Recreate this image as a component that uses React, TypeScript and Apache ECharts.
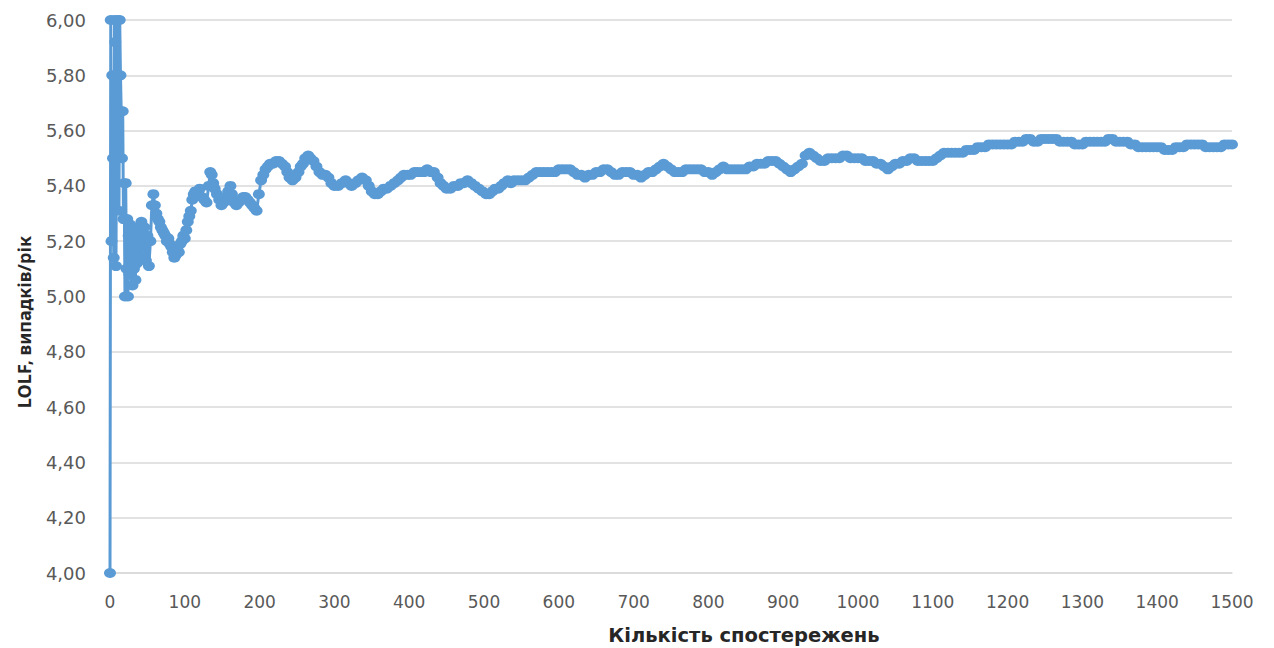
import React, { useEffect, useRef } from "react";
import * as echarts from "echarts";

const obsX: number[] = [
  0, 1, 2, 3, 4, 5, 6, 7, 8, 9, 10, 11, 12, 13, 14, 15, 16, 17, 18, 19,
  20, 21, 22, 23, 24, 25, 26, 27, 28, 29, 30, 31, 32, 33, 34, 35, 36, 38, 40, 42,
  44, 46, 48, 50, 52, 54, 56, 58, 60, 62, 64, 66, 68, 70, 72, 74, 76, 78, 80, 82,
  84, 86, 88, 90, 92, 94, 96, 98, 100, 102, 104, 106, 108, 110, 112, 114, 116, 118, 120, 123,
  126, 129, 132, 134, 136, 138, 140, 143, 146, 149, 152, 155, 158, 161, 163, 166, 169, 172, 175, 178,
  181, 184, 187, 190, 193, 196, 199, 202, 205, 208, 211, 214, 218, 222, 226, 230, 234, 237, 240, 244,
  248, 252, 255, 258, 261, 265, 268, 272, 276, 280, 284, 288, 292, 296, 300, 305, 310, 315, 319, 323,
  328, 332, 337, 342, 346, 350, 354, 358, 362, 366, 370, 375, 380, 385, 389, 393, 398, 402, 407, 411,
  416, 420, 424, 429, 433, 438, 442, 446, 450, 455, 460, 465, 469, 473, 478, 483, 488, 493, 498, 503,
  507, 511, 515, 519, 523, 527, 532, 536, 540, 545, 550, 555, 560, 565, 570, 575, 580, 585, 590, 595,
  600, 605, 610, 615, 620, 625, 630, 635, 640, 645, 650, 655, 660, 665, 670, 675, 680, 685, 690, 695,
  700, 705, 710, 715, 720, 725, 730, 735, 740, 745, 750, 755, 760, 765, 770, 775, 780, 785, 790, 795,
  800, 805, 810, 815, 820, 825, 830, 835, 840, 845, 850, 855, 860, 865, 870, 875, 880, 885, 890, 895,
  900, 905, 910, 915, 920, 925, 930, 935, 940, 945, 950, 955, 960, 965, 970, 975, 980, 985, 990, 995,
  1000, 1005, 1010, 1015, 1020, 1025, 1030, 1035, 1040, 1045, 1050, 1055, 1060, 1065, 1070, 1075, 1080, 1085, 1090, 1095,
  1100, 1105, 1110, 1115, 1120, 1125, 1130, 1135, 1140, 1145, 1150, 1155, 1160, 1165, 1170, 1175, 1180, 1185, 1190, 1195,
  1200, 1205, 1210, 1215, 1220, 1225, 1230, 1235, 1240, 1245, 1250, 1255, 1260, 1265, 1270, 1275, 1280, 1285, 1290, 1295,
  1300, 1305, 1310, 1315, 1320, 1325, 1330, 1335, 1340, 1345, 1350, 1355, 1360, 1365, 1370, 1375, 1380, 1385, 1390, 1395,
  1400, 1405, 1410, 1415, 1420, 1425, 1430, 1435, 1440, 1445, 1450, 1455, 1460, 1465, 1470, 1475, 1480, 1485, 1490, 1495,
  1500,
];

const lolf: number[] = [
  4.0, 6.0, 5.2, 5.8, 5.5, 5.14, 6.0, 5.92, 5.11, 5.8, 6.0, 5.5, 5.31, 6.0, 5.8, 5.67, 5.5, 5.67, 5.28, 5.41,
  5.0, 5.41, 5.1, 5.28, 5.0, 5.22, 5.08, 5.26, 5.12, 5.25, 5.04, 5.2, 5.1, 5.22, 5.06, 5.24, 5.12, 5.25, 5.15, 5.27,
  5.18, 5.25, 5.13, 5.22, 5.11, 5.2, 5.33, 5.37, 5.33, 5.3, 5.28, 5.27, 5.25, 5.24, 5.23, 5.22, 5.2, 5.21, 5.19, 5.18,
  5.16, 5.14, 5.15, 5.17, 5.16, 5.19, 5.2, 5.22, 5.21, 5.24, 5.27, 5.29, 5.31, 5.35, 5.37, 5.38, 5.37, 5.38, 5.39, 5.36,
  5.35, 5.34, 5.4, 5.45, 5.44, 5.41, 5.39, 5.37, 5.35, 5.33, 5.34, 5.36, 5.38, 5.4, 5.37, 5.34, 5.33, 5.34, 5.35, 5.36,
  5.36, 5.35, 5.34, 5.33, 5.32, 5.31, 5.37, 5.42, 5.44, 5.46, 5.47, 5.48, 5.48, 5.49, 5.49, 5.48, 5.47, 5.45, 5.43, 5.42,
  5.43, 5.45, 5.47, 5.48, 5.5, 5.51, 5.5, 5.49, 5.47, 5.45, 5.44, 5.44, 5.43, 5.41, 5.4, 5.4, 5.41, 5.42, 5.41, 5.4,
  5.41, 5.42, 5.43, 5.42, 5.4, 5.38, 5.37, 5.37, 5.38, 5.39, 5.39, 5.4, 5.41, 5.42, 5.43, 5.44, 5.44, 5.44, 5.45, 5.45,
  5.45, 5.45, 5.46, 5.45, 5.45, 5.43, 5.41, 5.4, 5.39, 5.39, 5.4, 5.4, 5.41, 5.41, 5.42, 5.41, 5.4, 5.39, 5.38, 5.37,
  5.37, 5.38, 5.39, 5.39, 5.4, 5.41, 5.42, 5.41, 5.42, 5.42, 5.42, 5.42, 5.43, 5.44, 5.45, 5.45, 5.45, 5.45, 5.45, 5.45,
  5.46, 5.46, 5.46, 5.46, 5.45, 5.44, 5.44, 5.43, 5.44, 5.44, 5.45, 5.45, 5.46, 5.46, 5.45, 5.44, 5.44, 5.45, 5.45, 5.45,
  5.44, 5.44, 5.43, 5.44, 5.45, 5.45, 5.46, 5.47, 5.48, 5.47, 5.46, 5.45, 5.45, 5.45, 5.46, 5.46, 5.46, 5.46, 5.46, 5.45,
  5.45, 5.44, 5.45, 5.46, 5.47, 5.46, 5.46, 5.46, 5.46, 5.46, 5.46, 5.47, 5.47, 5.48, 5.48, 5.48, 5.49, 5.49, 5.49, 5.48,
  5.47, 5.46, 5.45, 5.46, 5.47, 5.48, 5.51, 5.52, 5.51, 5.5, 5.49, 5.49, 5.5, 5.5, 5.5, 5.5, 5.51, 5.51, 5.5, 5.5,
  5.5, 5.5, 5.49, 5.49, 5.49, 5.48, 5.48, 5.47, 5.46, 5.47, 5.48, 5.48, 5.49, 5.49, 5.5, 5.5, 5.49, 5.49, 5.49, 5.49,
  5.49, 5.5, 5.51, 5.52, 5.52, 5.52, 5.52, 5.52, 5.52, 5.53, 5.53, 5.53, 5.54, 5.54, 5.54, 5.55, 5.55, 5.55, 5.55, 5.55,
  5.55, 5.55, 5.56, 5.56, 5.56, 5.57, 5.57, 5.56, 5.56, 5.57, 5.57, 5.57, 5.57, 5.57, 5.56, 5.56, 5.56, 5.56, 5.55, 5.55,
  5.55, 5.56, 5.56, 5.56, 5.56, 5.56, 5.56, 5.57, 5.57, 5.56, 5.56, 5.56, 5.56, 5.55, 5.55, 5.54, 5.54, 5.54, 5.54, 5.54,
  5.54, 5.54, 5.53, 5.53, 5.53, 5.54, 5.54, 5.54, 5.55, 5.55, 5.55, 5.55, 5.55, 5.54, 5.54, 5.54, 5.54, 5.54, 5.55, 5.55,
  5.55,
];

const xTitle = "Кількість спостережень";
const yTitle = "LOLF, випадків/рік";

export default function App() {
  const ref = useRef<HTMLDivElement>(null);
  useEffect(() => {
    if (!ref.current) return;
    const chart = echarts.init(ref.current, undefined, { renderer: "svg" });
    const data = obsX.map((x, i) => [x, lolf[i]]);
    chart.setOption({
      animation: false,
      backgroundColor: "#ffffff",
      grid: { left: 110, right: 42, top: 20, bottom: 75, containLabel: false },
      xAxis: {
        type: "value",
        min: 0,
        max: 1500,
        interval: 100,
        axisLine: { show: true, lineStyle: { color: "#d9d9d9", width: 1.5 } },
        axisTick: { show: false },
        splitLine: { show: false },
        axisLabel: {
          color: "#595959",
          fontSize: 17,
          fontFamily: "DejaVu Sans",
          margin: 20,
          formatter: (v: number) => String(v),
        },
      },
      yAxis: {
        type: "value",
        min: 4,
        max: 6,
        interval: 0.2,
        axisLine: { show: false },
        axisTick: { show: false },
        splitLine: { show: true, lineStyle: { color: "#d9d9d9", width: 1.5 } },
        axisLabel: {
          color: "#595959",
          fontSize: 18,
          fontFamily: "DejaVu Sans",
          margin: 24,
          formatter: (v: number) => v.toFixed(2).replace(".", ","),
        },
      },
      graphic: [
        {
          type: "text",
          x: 744,
          y: 635,
          style: {
            text: xTitle,
            fontSize: 19.5,
            fontWeight: "bold",
            fontFamily: "DejaVu Sans",
            fill: "#262626",
            align: "center",
            verticalAlign: "middle",
          },
        },
        {
          type: "text",
          x: 24,
          y: 322,
          rotation: Math.PI / 2,
          style: {
            text: yTitle,
            fontSize: 18,
            fontWeight: "bold",
            fontFamily: "Noto Sans",
            fill: "#262626",
            align: "center",
            verticalAlign: "middle",
          },
        },
      ],
      series: [
        {
          type: "line",
          data,
          clip: false,
          symbol: "circle",
          symbolSize: [12, 10],
          showAllSymbol: true,
          itemStyle: { color: "#5b9bd5" },
          lineStyle: { color: "#5b9bd5", width: 3 },
        },
      ],
    });
    return () => chart.dispose();
  }, []);
  return (
    <div
      ref={ref}
      style={{ position: "fixed", left: 0, top: 0, width: 1274, height: 648 }}
    />
  );
}
